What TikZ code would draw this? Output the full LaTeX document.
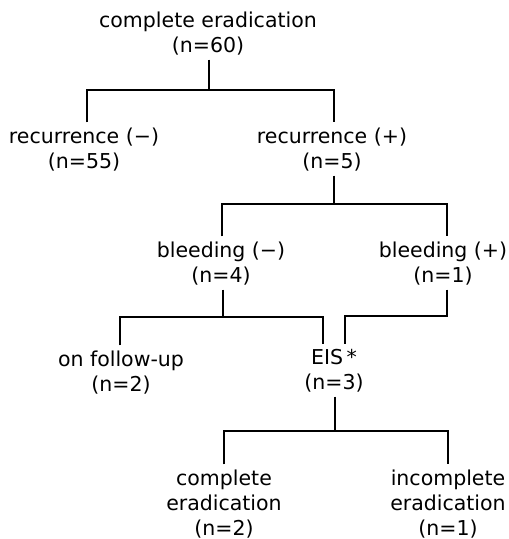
\documentclass[tikz,border=0pt]{standalone}
\usepackage{fontspec}
\setmainfont{DejaVu Sans}
\begin{document}
\begin{tikzpicture}[x=1pt,y=-1pt,
  box/.style={inner sep=0pt, outer sep=5pt, align=center, anchor=base, font=\fontsize{20.5}{25}\selectfont},
  conn/.style={line width=1.2pt}]
\useasboundingbox (0,0) rectangle (509,539);
% anchor=base is the baseline of the last line
\node[box] (top) at (208,52) {complete eradication\\(n=60)};
\node[box] (rm) at (84,168) {recurrence (−)\\(n=55)};
\node[box] (rp) at (332,168) {recurrence (+)\\(n=5)};
\node[box] (bm) at (221,282) {bleeding (−)\\(n=4)};
\node[box] (bp) at (443,282) {bleeding (+)\\(n=1)};
\node[box] (fu) at (121,391) {on follow-up\\(n=2)};
\node[box] (eis) at (334,389) {EIS\,*\\(n=3)};
\node[box] (ce) at (224,535) {complete\\eradication\\(n=2)};
\node[box] (ie) at (448,535) {incomplete\\eradication\\(n=1)};
% junctions
\coordinate (j1) at (209,90); \coordinate (j1l) at (87,90); \coordinate (j1r) at (334,90);
\coordinate (j2) at (334,204); \coordinate (j2l) at (222,204); \coordinate (j2r) at (447,204);
\coordinate (j3) at (223,317); \coordinate (j3l) at (120,317); \coordinate (j3r) at (323,317);
\coordinate (j5) at (447,316); \coordinate (j5l) at (345,316);
\coordinate (j4) at (335,431); \coordinate (j4l) at (224,431); \coordinate (j4r) at (448,431);
\draw[conn] (top.south -| j1) -- (j1);
\draw[conn] (rm.north -| j1l) -- (j1l) -- (j1r) -- (rp.north -| j1r);
\draw[conn] (rp.south -| j2) -- (j2);
\draw[conn] (bm.north -| j2l) -- (j2l) -- (j2r) -- (bp.north -| j2r);
\draw[conn] (bm.south -| j3) -- (j3);
\draw[conn] (fu.north -| j3l) -- (j3l) -- (j3r) -- (eis.north -| j3r);
\draw[conn] (bp.south -| j5) -- (j5) -- (j5l) -- (eis.north -| j5l);
\draw[conn] (eis.south -| j4) -- (j4);
\draw[conn] (ce.north -| j4l) -- (j4l) -- (j4r) -- (ie.north -| j4r);
\end{tikzpicture}
\end{document}
